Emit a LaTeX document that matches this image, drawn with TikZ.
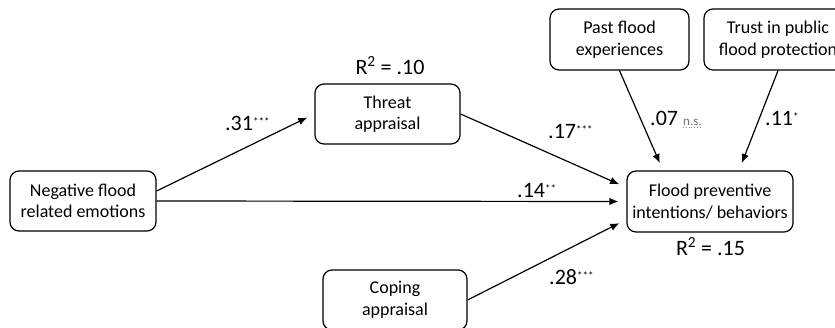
\documentclass[tikz,border=0pt]{standalone}
\usepackage{fontspec}
\setmainfont{Carlito}
\usetikzlibrary{arrows.meta}
\newcommand{\sig}[1]{\raisebox{5pt}{\fontsize{11}{11}\selectfont #1}}

\begin{document}
\begin{tikzpicture}[x=1pt,y=-1pt,
    box/.style={draw,line width=1.2pt,rounded corners=9pt,align=center,
      inner sep=0pt,font=\fontsize{18}{21.5}\selectfont},
    lab/.style={inner sep=0pt,anchor=base west,font=\fontsize{22}{22}\selectfont},
    rsq/.style={inner sep=0pt,anchor=base,font=\fontsize{22}{22}\selectfont},
    ns/.style={inner sep=0pt,anchor=base west,text=black!55,font=\fontsize{13}{13}\selectfont},
    arr/.style={draw,line width=1.2pt,-{Latex[length=9pt,width=7.5pt]},shorten >=8pt}]

    \clip (0,0) rectangle (835,327);

    % boxes
    \node[box,minimum width=146pt,minimum height=60pt] (neg) at (83,201) {Negative flood\\related emotions};
    \node[box,minimum width=145pt,minimum height=60pt] (threat) at (387.5,114) {Threat\\appraisal};
    \node[box,minimum width=144pt,minimum height=60pt] (coping) at (395,300) {Coping\\appraisal};
    \node[box,minimum width=166pt,minimum height=61pt] (flood) at (710,201.5) {Flood preventive\\intentions/ behaviors};
    \node[box,minimum width=139pt,minimum height=61pt] (past) at (619.5,39.5) {Past flood\\experiences};
    \node[box,minimum width=148pt,minimum height=61pt] (trust) at (778,39.5) {Trust in public\\flood protection};

    % explained variance
    \node[rsq] (rthreat) at (390,74) {R\textsuperscript{2} = .10};
    \node[rsq] (rflood) at (710.5,255) {R\textsuperscript{2} = .15};

    % paths
    \draw[arr] ([yshift=10pt]neg.east) -- (threat.west);
    \draw[arr] (threat.east) -- ([yshift=14pt]flood.west);
    \draw[arr] (neg.east) -- (flood.west);
    \draw[arr] (coping.east) -- ([yshift=-18pt]flood.west);
    \draw[arr] (past.south) -- ([xshift=-47pt]flood.north);
    \draw[arr] (trust.south) -- ([xshift=29pt]flood.north);

    % coefficients
    \node[lab] (c31) at (225,130) {.31\sig{***}};
    \node[lab] (c17) at (548,138) {.17\sig{***}};
    \node[lab] (c14) at (517,197) {.14\sig{**}};
    \node[lab] (c28) at (549,284) {.28\sig{***}};
    \node[lab] (c07) at (650,125) {.07};
    \node[ns] (nsign) at (683,125) {n.s.};
    \draw[black!45,line width=0.8pt,dotted] ([yshift=-2.5pt]nsign.base west) -- ([yshift=-2.5pt]nsign.base east);
    \node[lab] (c11) at (765,125) {.11\sig{*}};
\end{tikzpicture}
\end{document}
